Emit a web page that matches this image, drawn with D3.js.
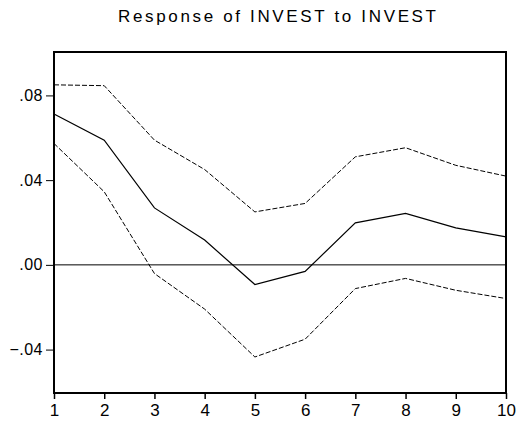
<!DOCTYPE html>
<html>
<head>
<meta charset="utf-8">
<script src="https://cdn.jsdelivr.net/npm/d3@7"></script>
<style>
  html, body { margin: 0; padding: 0; background: #fff; }
  svg { display: block; font-family: "Liberation Sans", Arial, sans-serif; }
</style>
</head>
<body>
<svg id="chart" width="516" height="423"></svg>
<script>
const title = "Response of INVEST to INVEST";
const periods = [1, 2, 3, 4, 5, 6, 7, 8, 9, 10];
const response = [0.0712, 0.0589, 0.0269, 0.0117, -0.0093, -0.0031, 0.0198, 0.0243, 0.0175, 0.0132];
const upperBand = [0.0850, 0.0846, 0.0589, 0.0450, 0.0250, 0.0290, 0.0510, 0.0553, 0.0470, 0.0419];
const lowerBand = [0.0573, 0.0345, -0.0041, -0.0209, -0.0435, -0.0351, -0.0112, -0.0064, -0.0120, -0.0159];
const yTicks = [-0.04, 0.00, 0.04, 0.08];
const yDomain = [-0.0605, 0.1005];

const svg = d3.select("#chart");
const m = { left: 54, right: 506, top: 52, bottom: 393 };

const x = d3.scaleLinear().domain([1, 10]).range([m.left, m.right]);
const y = d3.scaleLinear().domain(yDomain).range([m.bottom, m.top]);

// title
svg.append("text")
  .attr("x", 277).attr("y", 22)
  .attr("text-anchor", "middle")
  .attr("font-size", 17)
  .attr("textLength", 318)
  .attr("lengthAdjust", "spacing")
  .attr("fill", "#000")
  .text(title);

// zero line
svg.append("line")
  .attr("x1", m.left).attr("x2", m.right)
  .attr("y1", y(0)).attr("y2", y(0))
  .attr("stroke", "#000").attr("stroke-width", 1);

const line = d3.line().x((d, i) => x(periods[i])).y(d => y(d));

svg.append("path").datum(upperBand)
  .attr("d", line).attr("fill", "none")
  .attr("stroke", "#000").attr("stroke-width", 1)
  .attr("stroke-dasharray", "5,2");
svg.append("path").datum(lowerBand)
  .attr("d", line).attr("fill", "none")
  .attr("stroke", "#000").attr("stroke-width", 1)
  .attr("stroke-dasharray", "5,2");
svg.append("path").datum(response)
  .attr("d", line).attr("fill", "none")
  .attr("stroke", "#000").attr("stroke-width", 1.2);

// frame
svg.append("rect")
  .attr("x", m.left).attr("y", m.top)
  .attr("width", m.right - m.left).attr("height", m.bottom - m.top)
  .attr("fill", "none").attr("stroke", "#000").attr("stroke-width", 2);

const fmt = v => {
  const s = d3.format(".2f")(Math.abs(v) < 1e-9 ? 0 : v);
  return s.replace("0.", ".");
};

// y axis
const yAxis = svg.append("g")
  .attr("transform", `translate(${m.left},0)`)
  .call(d3.axisLeft(y).tickValues(yTicks).tickFormat(fmt).tickSizeInner(8).tickSizeOuter(0).tickPadding(3));
yAxis.select(".domain").remove();
yAxis.selectAll("line").attr("stroke", "#000").attr("stroke-width", 1);
yAxis.selectAll("text").attr("font-size", 16).attr("fill", "#000")
  .attr("letter-spacing", 0.5)
  .attr("font-family", "'Liberation Sans', Arial, sans-serif");

// x axis
const xAxis = svg.append("g")
  .attr("transform", `translate(0,${m.bottom})`)
  .call(d3.axisBottom(x).tickValues(periods).tickFormat(d3.format("d")).tickSizeInner(6).tickSizeOuter(0).tickPadding(5));
xAxis.select(".domain").remove();
xAxis.selectAll("line").attr("stroke", "#000").attr("stroke-width", 1.5);
xAxis.selectAll("text").attr("font-size", 17).attr("fill", "#000")
  .attr("font-family", "'Liberation Sans', Arial, sans-serif");
</script>
</body>
</html>
